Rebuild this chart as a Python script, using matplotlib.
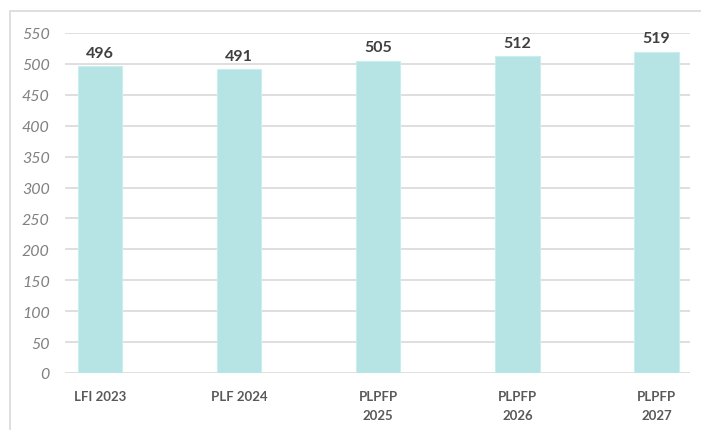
import matplotlib.pyplot as plt
from matplotlib.patches import Rectangle
import numpy as np

plt.rcParams['font.family'] = ['Lato', 'DejaVu Sans']

categories = ['LFI 2023', 'PLF 2024', 'PLPFP\n2025', 'PLPFP\n2026', 'PLPFP\n2027']
values = [496, 491, 505, 512, 519]
yticks = list(range(0, 551, 50))

BAR_COLOR = '#b6e3e4'
GRID_COLOR = '#d9d9d9'

fig = plt.figure(figsize=(7.01, 4.31), dpi=100)
ax = fig.add_axes([65 / 701, 57 / 431, 625 / 701, 340 / 431])

# outer chart frame, cut off on the right and bottom like the screenshot
fig.patches.append(Rectangle((10 / 701, -0.1), 1.0, (431 - 12) / 431 + 0.1,
                             transform=fig.transFigure, fill=False,
                             edgecolor=GRID_COLOR, linewidth=1.2))

x = np.arange(len(categories))
ax.bar(x, values, width=0.32, color=BAR_COLOR, edgecolor='#c9eeee', linewidth=0.8, zorder=2)

for xi, v in zip(x, values):
    ax.text(xi, v + 11, str(v), ha='center', va='bottom', fontsize=11.5,
            fontweight='bold', color='#404040', zorder=3)

ax.set_ylim(0, 550)
ax.set_xlim(-0.25, 4.24)
ax.set_yticks(yticks)
ax.set_yticklabels([str(t) for t in yticks], fontsize=11.5, style='italic', color='#808080')
ax.set_xticks(x)
ax.set_xticklabels(categories, fontsize=9.5, fontweight='bold', color='#595959', linespacing=1.75)
ax.yaxis.grid(True, color=GRID_COLOR, linewidth=1.2, zorder=0)
ax.set_axisbelow(True)
ax.tick_params(axis='both', length=0)
ax.tick_params(axis='y', pad=11)
ax.tick_params(axis='x', pad=12)
for s in ax.spines.values():
    s.set_visible(False)

fig.savefig('out.png', dpi=100)
